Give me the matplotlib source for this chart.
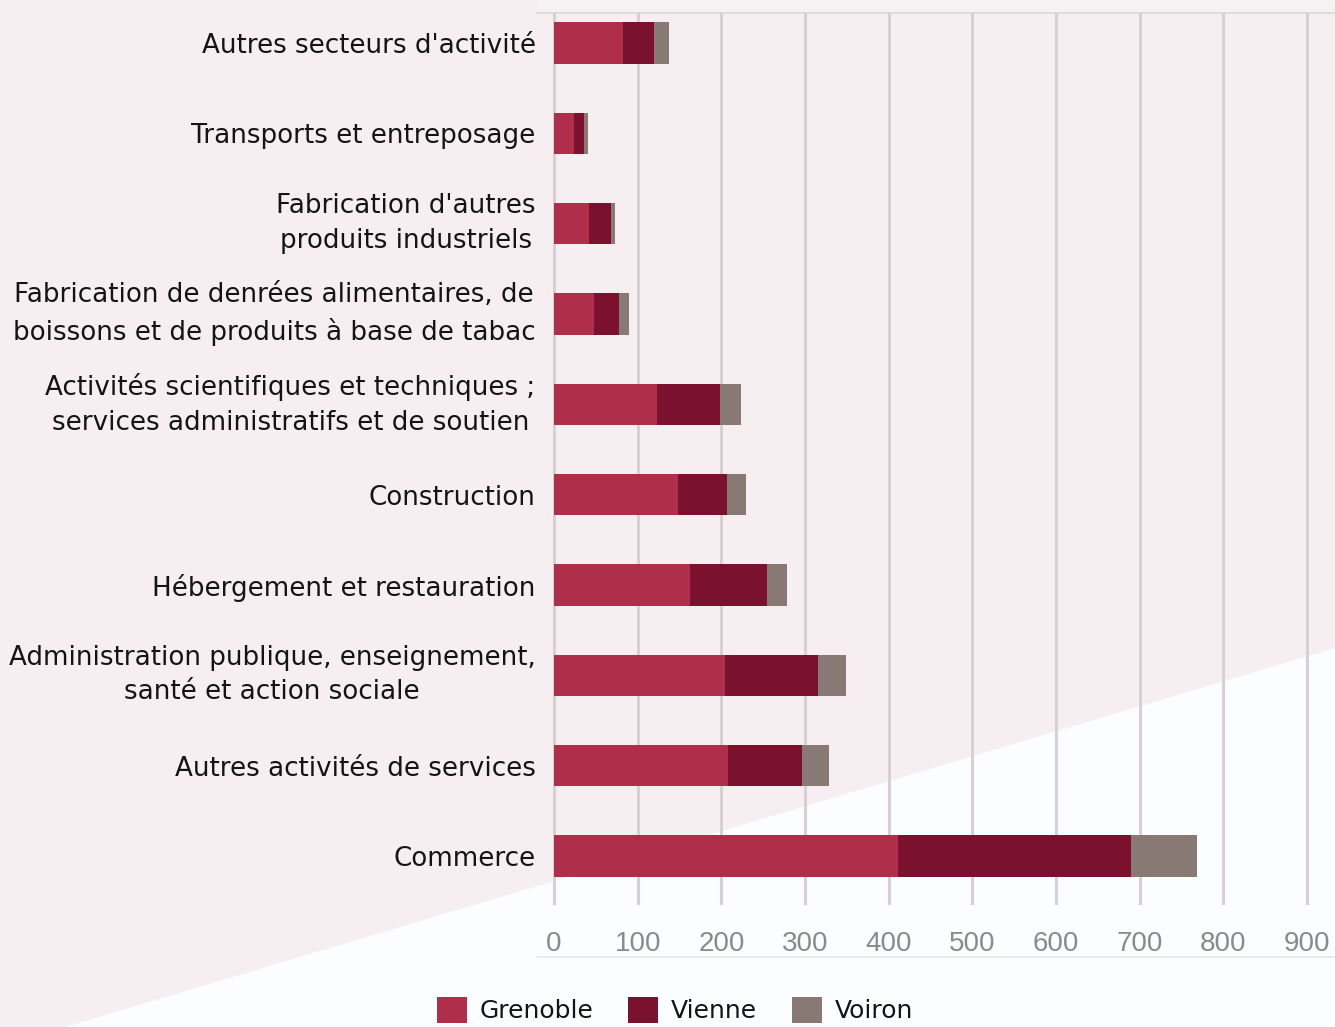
import matplotlib
matplotlib.use("Agg")
import matplotlib.pyplot as plt
from matplotlib.patches import Polygon, Rectangle
from matplotlib.lines import Line2D

categories = [
    "Autres secteurs d'activité",
    "Transports et entreposage",
    "Fabrication d'autres\nproduits industriels",
    "Fabrication de denrées alimentaires, de\nboissons et de produits à base de tabac",
    "Activités scientifiques et techniques ;\nservices administratifs et de soutien",
    "Construction",
    "Hébergement et restauration",
    "Administration publique, enseignement,\nsanté et action sociale",
    "Autres activités de services",
    "Commerce",
]
grenoble = [83, 24, 42, 48, 123, 148, 162, 204, 208, 411]
vienne = [36, 12, 26, 30, 76, 59, 92, 112, 89, 278]
voiron = [18, 5, 5, 12, 25, 23, 24, 33, 32, 80]
series_names = ["Grenoble", "Vienne", "Voiron"]
colors = ["#af2f4a", "#79112f", "#897975"]
xticks = [0, 100, 200, 300, 400, 500, 600, 700, 800, 900]

W, H = 1335, 1027
fig = plt.figure(figsize=(W / 100, H / 100), dpi=100)
fig.patch.set_facecolor("#f6eef0")

# fond : triangle blanc en bas a droite (sous les axes)
fig.patches.append(Polygon([(65 / W, 0), (1, 1 - 648 / H), (1, 0)], closed=True,
                           transform=fig.transFigure, facecolor="#fbfdfe",
                           edgecolor="none", zorder=-10))
fig.patches.append(Rectangle((537 / W, 1 - 13 / H), 1, 13 / H, transform=fig.transFigure,
                             facecolor="#f6f2f4", edgecolor="none", zorder=-10))
fig.lines.append(Line2D([537 / W, 1], [1 - 13 / H, 1 - 13 / H], transform=fig.transFigure,
                        color="#dcd6d8", lw=1.2, zorder=-5))
fig.lines.append(Line2D([537 / W, 1], [1 - 957 / H, 1 - 957 / H], transform=fig.transFigure,
                        color="#e8e8e8", lw=1.2, zorder=-5))

ax = fig.add_axes([537 / W, 1 - 905 / H, 1 - 537 / W, (905 - 13) / H])
ax.patch.set_alpha(0)

pos = list(range(len(categories)))
left = [0] * len(categories)
for name, vals, c in zip(series_names, [grenoble, vienne, voiron], colors):
    ax.barh(pos, vals, left=left, height=0.455, color=c, label=name, zorder=3)
    left = [a + b for a, b in zip(left, vals)]

ax.set_xlim(-20.3, 933.4)
ax.set_ylim(9.543, -0.332)
ax.set_xticks(xticks)
ax.set_xticklabels([str(t) for t in xticks], fontsize=20, color="#8a8a8a",
                   family="Liberation Sans")
ax.set_yticks(pos)
ax.set_yticklabels(categories, fontsize=18.8, color="#141414", multialignment="center",
                   linespacing=1.42)
for lbl in ax.get_yticklabels():
    if "\n" in lbl.get_text():
        lbl.set_verticalalignment("center")
ax.tick_params(axis="x", length=0, pad=19)
ax.tick_params(axis="y", length=0, pad=1)
ax.grid(axis="x", color="#d8d1d4", lw=2.2, zorder=1)
for s in ax.spines.values():
    s.set_visible(False)

fig.legend(loc="center", bbox_to_anchor=(675 / W, 1 - 1010 / H), ncol=3, frameon=False,
           fontsize=18, handlelength=1.2, handleheight=1.2, handletextpad=0.5,
           columnspacing=1.4, labelcolor="#141414", borderpad=0)

fig.savefig("out.png", dpi=100, facecolor=fig.get_facecolor())
